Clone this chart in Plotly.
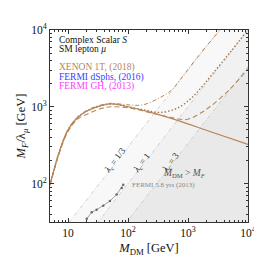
import numpy as np
import plotly.graph_objects as go

# ---------------- data ----------------
# solid XENON 1T curve
x_solid = [5, 6.0, 6.8, 10, 14.7, 21.5, 35.8, 52.6, 108, 232, 646, 2320, 10000]
y_solid = [97, 164, 230, 500, 736, 895, 1035, 1090, 986, 851, 670, 477, 324]

# dash-dot (lambda_c = 1/3)
x_dashdot = [5, 6.0, 6.8, 10, 14.7, 21.5, 35.8, 52.6, 100, 177, 340, 533, 735, 1580, 3400, 5000]
y_dashdot = [97, 166, 234, 510, 750, 915, 1060, 1110, 1060, 1060, 1318, 1650, 2250, 4870, 10000, 15000]

# dotted (lambda_c = 1)
x_dotted = [5, 6.0, 6.8, 10, 14.7, 21.5, 35.8, 52.6, 108, 200, 340, 646, 1080, 1580, 2500, 5000, 10000]
y_dotted = [97, 164, 230, 500, 736, 895, 1035, 1090, 990, 900, 845, 950, 1250, 1700, 2620, 5080, 10100]

# dashed (lambda_c = 3)
x_dashed = [5, 6.0, 6.8, 10, 14.7, 21.5, 35.8, 52.6, 108, 232, 500, 949, 1500, 2320, 5000, 10000]
y_dashed = [95, 158, 222, 480, 700, 812, 950, 1000, 960, 840, 730, 684, 800, 1000, 1700, 3150]

# FERMI 5.8 yrs (2013)
x_fermi = [20.5, 24.8, 30.0, 38.6, 50, 64.6, 78.3, 83.2]
y_fermi = [34.8, 42.3, 45.7, 51.4, 59.4, 72, 87.5, 96.4]

lambdas = [1/3, 1, 3]
lambda_labels = ["1/3", "1", "3"]
band_colors = ["#f8f8f8", "#f1f1f1", "#e9e9e9"]

legend_texts = ["Complex Scalar <i>S</i>", "SM lepton <i>μ</i>",
                "XENON 1T, (2018)", "FERMI dSphs, (2016)", "FERMI GH, (2013)"]
legend_colors = ["#111111", "#111111", "#b5865a", "#3c3cff", "#ff3cff"]

x_tickvals = [10, 100, 1000, 10000]
x_ticktext = ["10", "10<sup>2</sup>", "10<sup>3</sup>", "10<sup>4</sup>"]
y_tickvals = [100, 1000, 10000]
y_ticktext = ["10<sup>2</sup>", "10<sup>3</sup>", "10<sup>4</sup>"]

BROWN = "#b5865a"
FONT = "Liberation Serif, DejaVu Serif, serif"

fig = go.Figure()

# shaded bands: M_DM > M_F / lambda  ->  y < x / lambda
xlo, xhi, ylo = 1.0, 1e5, 1.0
for lam, col in zip(lambdas, band_colors):
    fig.add_trace(go.Scatter(
        x=[xlo, xhi, xhi, xlo], y=[xlo / lam, xhi / lam, ylo, ylo],
        fill="toself", fillcolor=col, line=dict(width=0), mode="lines",
        hoverinfo="skip", showlegend=False))
for lam in lambdas:
    fig.add_trace(go.Scatter(
        x=[xlo, xhi], y=[xlo / lam, xhi / lam], mode="lines",
        line=dict(color="#c4c4c4", width=0.8, dash="4px,2px,1px,2px"),
        hoverinfo="skip", showlegend=False))

# FERMI 5.8 yrs
fig.add_trace(go.Scatter(x=x_fermi, y=y_fermi, mode="lines+markers",
                         line=dict(color="#8a8a8a", width=0.8),
                         marker=dict(color="#6a6a6a", size=2.5),
                         showlegend=False))

# XENON curves
fig.add_trace(go.Scatter(x=x_dashed, y=y_dashed, mode="lines", line_shape="spline",
                         line=dict(color=BROWN, width=1.1, dash="5px,3px"), showlegend=False))
fig.add_trace(go.Scatter(x=x_dotted, y=y_dotted, mode="lines", line_shape="spline",
                         line=dict(color="#a87a4c", width=1.4, dash="1.5px,2px"), showlegend=False))
fig.add_trace(go.Scatter(x=x_dashdot, y=y_dashdot, mode="lines", line_shape="spline",
                         line=dict(color=BROWN, width=1.0, dash="4px,2px,1px,2px"), showlegend=False))
fig.add_trace(go.Scatter(x=x_solid, y=y_solid, mode="lines", line_shape="spline",
                         line=dict(color=BROWN, width=1.2), showlegend=False))

annotations = []
ys = [0.949, 0.899, 0.803, 0.753, 0.707]
for t, c, yy in zip(legend_texts, legend_colors, ys):
    annotations.append(dict(text=t, x=0.035, y=yy, xref="paper", yref="paper",
                            xanchor="left", yanchor="middle", showarrow=False,
                            font=dict(family=FONT, size=9.5, color=c)))

# lambda labels along the lines
label_y = [192, 181, 181]
for lam, lab, yv in zip(lambdas, lambda_labels, label_y):
    xv = yv * lam
    annotations.append(dict(text="<i>λ<sub>c</sub></i> = " + lab,
                            x=np.log10(xv), y=np.log10(yv), xref="x", yref="y",
                            xshift=-1, yshift=1, textangle=-53, showarrow=False,
                            font=dict(family=FONT, size=9, color="#222222")))

annotations.append(dict(text="FERMI 5.8 yrs (2013)", x=0.573, y=0.162, xref="paper", yref="paper",
                        showarrow=False, font=dict(family=FONT, size=7, color="#888888")))
annotations.append(dict(text="<i>M</i><sub>DM</sub> &gt; <i>M<sub>F</sub></i>", x=0.80, y=0.216,
                        xref="paper", yref="paper", showarrow=False,
                        font=dict(family=FONT, size=9.5, color="#555555")))

minor_vals = [m * 10 ** k for k in range(0, 5) for m in range(2, 10)]

axis_common = dict(type="log", showgrid=False, zeroline=False, showline=True,
                   linecolor="#333333", linewidth=1, mirror="allticks",
                   ticks="inside", ticklen=4, tickcolor="#333333",
                   tickfont=dict(family=FONT, size=11.5, color="#111111"),
                   minor=dict(ticks="inside", ticklen=2, tickcolor="#333333",
                              tickvals=minor_vals, showgrid=False))

fig.update_layout(
    width=262, height=257,
    margin=dict(l=40, r=22, t=22, b=37),
    paper_bgcolor="white", plot_bgcolor="white",
    font=dict(family=FONT),
    xaxis=dict(range=[np.log10(5), 4], tickvals=x_tickvals, ticktext=x_ticktext,
               title=dict(text="<i>M</i><sub>DM</sub> [GeV]", standoff=5,
                          font=dict(family=FONT, size=12.5, color="#111111")),
               **axis_common),
    yaxis=dict(range=[1.5, 4], tickvals=y_tickvals, ticktext=y_ticktext,
               title=dict(text="<i>M<sub>F</sub></i>/λ<sub><i>μ</i></sub> [GeV]", standoff=2,
                          font=dict(family=FONT, size=12.5, color="#111111")),
               **axis_common),
    annotations=annotations,
)

fig.write_html("out.html")
